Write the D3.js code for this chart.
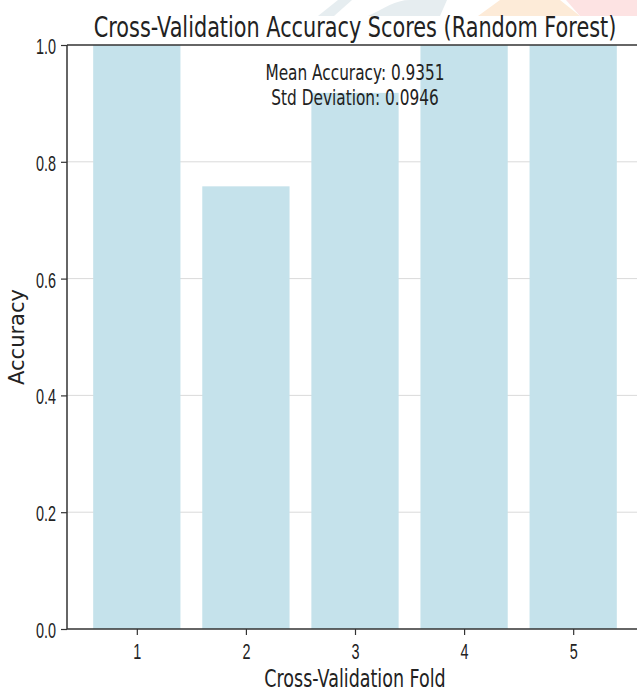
<!DOCTYPE html>
<html>
<head>
<meta charset="utf-8">
<script src="https://cdn.jsdelivr.net/npm/d3@7"></script>
<style>
  html, body { margin: 0; padding: 0; background: #fff; overflow: hidden; }
  svg { display: block; overflow: hidden; font-family: "DejaVu Sans", sans-serif; }
</style>
</head>
<body>
<svg id="chart" width="637" height="692"></svg>
<script>
// data
var folds = [1, 2, 3, 4, 5];
var scores = [1.0, 0.758, 0.918, 1.0, 1.0];
var yTicks = [0.0, 0.2, 0.4, 0.6, 0.8, 1.0];
var titleText = "Cross-Validation Accuracy Scores (Random Forest)";
var statLines = ["Mean Accuracy: 0.9351", "Std Deviation: 0.0946"];

var svg = d3.select("#chart");

// plot area (right edge falls outside the window, like the reference)
var pLeft = 67, pRight = 643, pTop = 45, pBottom = 629;
var sx = 0.73;     // text looks squeezed sideways
var sxTick = 0.64; // tick labels squeezed a bit more

var x = d3.scaleLinear().domain([0.36, 5.64]).range([pLeft, pRight]);
var y = d3.scaleLinear().domain([0, 1]).range([pBottom, pTop]);

// faint watermark shapes behind the top
var wm = svg.append("g").attr("class", "watermark");
wm.append("path").attr("d", "M318,16 L338,0 L352,0 L334,16 Z").attr("fill", "#e6edf0");
wm.append("path").attr("d", "M368,16 C385,8 395,0 410,0 L447,0 L440,16 Z").attr("fill", "#e6edf0");
wm.append("path").attr("d", "M478,16 L500,0 L560,0 L580,16 Z").attr("fill", "#fdebd8");
wm.append("path").attr("d", "M580,16 L566,0 L637,0 L637,16 Z").attr("fill", "#fde3e3");

// gridlines
svg.append("g")
    .selectAll("line")
    .data(yTicks.filter(function(d){ return d > 0 && d < 1; }))
    .enter()
    .append("line")
    .attr("x1", pLeft).attr("x2", 637)
    .attr("y1", function(d){ return y(d); })
    .attr("y2", function(d){ return y(d); })
    .attr("stroke", "#dadada")
    .attr("stroke-width", 1);

// bars
svg.append("g")
    .selectAll("rect")
    .data(folds)
    .enter()
    .append("rect")
    .attr("x", function(d){ return x(d - 0.4); })
    .attr("width", function(d){ return x(d + 0.4) - x(d - 0.4); })
    .attr("y", function(d, i){ return y(scores[i]); })
    .attr("height", function(d, i){ return y(0) - y(scores[i]); })
    .attr("fill", "#c5e2eb");

// y axis
var yAxis = svg.append("g")
    .attr("transform", "translate(" + pLeft + ",0)")
    .call(d3.axisLeft(y).tickValues(yTicks).tickSize(6).tickFormat(d3.format(".1f")));
yAxis.select(".domain").remove();
yAxis.selectAll(".tick line").attr("stroke", "#333").attr("stroke-width", 1.2);
yAxis.selectAll(".tick text").remove();
yAxis.selectAll(".tick").append("g")
    .attr("transform", "translate(-11,8.5) scale(" + sxTick + ",1)")
    .append("text")
    .attr("text-anchor", "end")
    .attr("font-size", 22.5)
    .attr("fill", "#222")
    .text(function(d){ return d3.format(".1f")(d); });

// x axis
var xAxis = svg.append("g")
    .attr("transform", "translate(0," + pBottom + ")")
    .call(d3.axisBottom(x).tickValues(folds).tickSize(6).tickSizeOuter(0));
xAxis.select(".domain").remove();
xAxis.selectAll(".tick line").attr("stroke", "#333").attr("stroke-width", 1.2);
xAxis.selectAll(".tick text").remove();
xAxis.selectAll(".tick").append("g")
    .attr("transform", "translate(0,30) scale(" + sxTick + ",1)")
    .append("text")
    .attr("text-anchor", "middle")
    .attr("font-size", 22.5)
    .attr("fill", "#222")
    .text(function(d){ return d; });

// spines (right one sits past the window edge, so only left/top/bottom)
var spine = svg.append("g").attr("stroke", "#333").attr("stroke-width", 1.5);
spine.append("line").attr("x1", pLeft).attr("x2", pLeft).attr("y1", pTop).attr("y2", pBottom);
spine.append("line").attr("x1", pLeft).attr("x2", 637).attr("y1", pBottom).attr("y2", pBottom);
spine.append("line").attr("x1", pLeft).attr("x2", 637).attr("y1", pTop).attr("y2", pTop);

var cx = (pLeft + pRight) / 2;

// title
svg.append("g")
    .attr("transform", "translate(" + cx + ",37) scale(" + sx + ",1)")
    .append("text")
    .attr("text-anchor", "middle")
    .attr("font-size", 28.5)
    .attr("fill", "#222")
    .text(titleText);

// mean / std text
svg.append("g")
    .selectAll("g")
    .data(statLines)
    .enter()
    .append("g")
    .attr("transform", function(d, i){ return "translate(" + cx + "," + (80 + i * 25) + ") scale(" + sx + ",1)"; })
    .append("text")
    .attr("text-anchor", "middle")
    .attr("font-size", 21)
    .attr("fill", "#222")
    .text(function(d){ return d; });

// axis labels
svg.append("g")
    .attr("transform", "translate(" + cx + ",687) scale(" + sx + ",1)")
    .append("text")
    .attr("text-anchor", "middle")
    .attr("font-size", 24)
    .attr("fill", "#222")
    .text("Cross-Validation Fold");

svg.append("text")
    .attr("transform", "translate(24," + ((pTop + pBottom) / 2) + ") rotate(-90)")
    .attr("text-anchor", "middle")
    .attr("font-size", 21)
    .attr("fill", "#222")
    .text("Accuracy");
</script>
</body>
</html>
